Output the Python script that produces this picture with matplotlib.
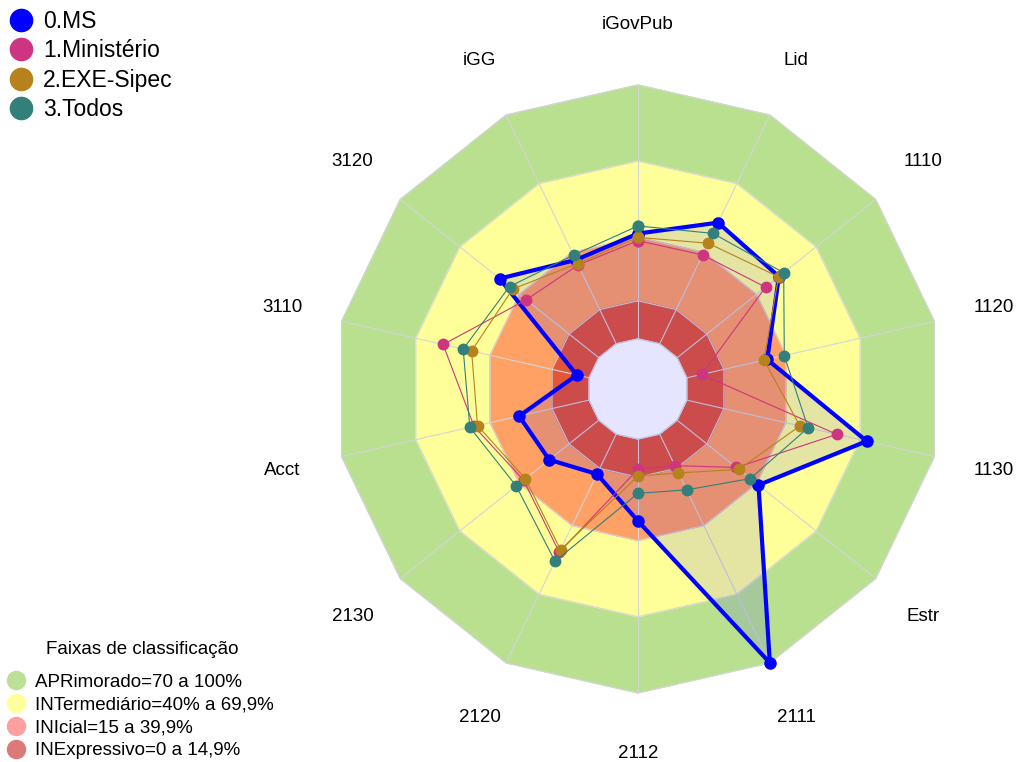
import numpy as np
import matplotlib
matplotlib.use("Agg")
import matplotlib.pyplot as plt
from matplotlib.lines import Line2D

plt.rcParams["font.family"] = ["Liberation Sans", "DejaVu Sans"]

# eixos do radar (sentido horário a partir do topo)
eixos = ["iGovPub", "Lid", "1110", "1120", "1130", "Estr", "2111",
         "2112", "2120", "2130", "Acct", "3110", "3120", "iGG"]

series = ["0.MS", "1.Ministério", "2.EXE-Sipec", "3.Todos"]
ms = [41.5, 53, 51.3, 32.5, 72.7, 41, 100, 32.3, 17.5, 25, 28.3, 5, 50, 36.7]
ministerio = [38.7, 38.9, 44.6, 6, 60.6, 29.9, 13.8, 11.9, 51.7, 37.9, 46.5, 59, 36.6, 34.5]
exe_sipec = [40, 44, 51.1, 31.2, 45.7, 31.1, 17, 14.6, 50.6, 37, 45.1, 47.5, 43.4, 35.1]
todos = [44.5, 48.3, 53.7, 39.4, 49, 36.9, 24.4, 21.4, 55.6, 41.6, 48.2, 50.9, 45, 38.8]
cores = ["#0000FF", "#CE3580", "#B5821C", "#327F7C"]

# faixas de classificação
faixas = ["APRimorado=70 a 100%", "INTermediário=40% a 69,9%",
          "INIcial=15 a 39,9%", "INExpressivo=0 a 14,9%"]
limites = [100, 70, 40, 15]
cores_faixa = ["#B8E08F", "#FFFF99", "#FFA064", "#E45538"]
cores_leg_faixa = ["#BBE096", "#FFFF9C", "#FFA0A0", "#DC7A7A"]

n = len(eixos)
ang = np.deg2rad(np.arange(n) * 360.0 / n)
ang_c = np.append(ang, ang[0])


def fechar(v):
    return np.append(v, v[0])


fig = plt.figure(figsize=(10.17, 7.62), dpi=100)
ax = fig.add_axes([0.3284, 0.0906, 0.5978, 0.7979], projection="polar")
ax.set_theta_zero_location("N")
ax.set_theta_direction(-1)
ax.set_ylim(-19.7, 100)
ax.grid(False)
ax.set_xticks([]); ax.set_yticks([])
ax.spines["polar"].set_visible(False)
ax.patch.set_alpha(0)

# faixas (polígonos empilhados de fora para dentro)
for lim, c in zip(limites, cores_faixa):
    ax.fill(ang_c, np.full(n + 1, lim), color=c, zorder=1, clip_on=False)
    ax.plot(ang_c, np.full(n + 1, lim), color="#D4D4DC", lw=0.8, zorder=2, clip_on=False)
ax.fill(ang_c, np.zeros(n + 1), color="white", zorder=1)
ax.plot(ang_c, np.zeros(n + 1), color="#D4D4DC", lw=0.8, zorder=2)
for a in ang:
    ax.plot([a, a], [0, 100], color="#D4D4DC", lw=0.8, zorder=2)

# séries
ax.fill(ang_c, fechar(ms), color=cores[0], alpha=0.1, lw=0, zorder=3, clip_on=False)
ax.plot(ang_c, fechar(ms), color=cores[0], lw=3, marker="o", ms=8, zorder=4, clip_on=False)
for vals, c in zip([ministerio, exe_sipec, todos], cores[1:]):
    ax.plot(ang_c, fechar(vals), color=c, lw=0.8, marker="o", ms=7.5, zorder=4)

for a, lab in zip(ang, eixos):
    ax.text(a, 124, lab, ha="center", va="center", fontsize=13.5)

h1 = [Line2D([], [], ls="", marker="o", ms=16, color=c) for c in cores]
fig.legend(h1, series, loc="upper left", bbox_to_anchor=(0.0, 1 - 1 / 762),
           frameon=False, fontsize=16.5, handletextpad=0.44, labelspacing=0.27,
           borderaxespad=0, handlelength=1.03, borderpad=0.4)

h2 = [Line2D([], [], ls="", marker="o", ms=13, color=c) for c in cores_leg_faixa]
fig.legend(h2, faixas, loc="lower left", bbox_to_anchor=(0.0, -4 / 762),
           frameon=False, fontsize=13.5, handletextpad=0.51, labelspacing=0.31,
           borderaxespad=0, handlelength=1.0, borderpad=0.35)
fig.text(142 / 1017, 1 - 650 / 762, "Faixas de classificação", fontsize=13.5,
         ha="center", va="center")

fig.savefig("out.png", dpi=100)
